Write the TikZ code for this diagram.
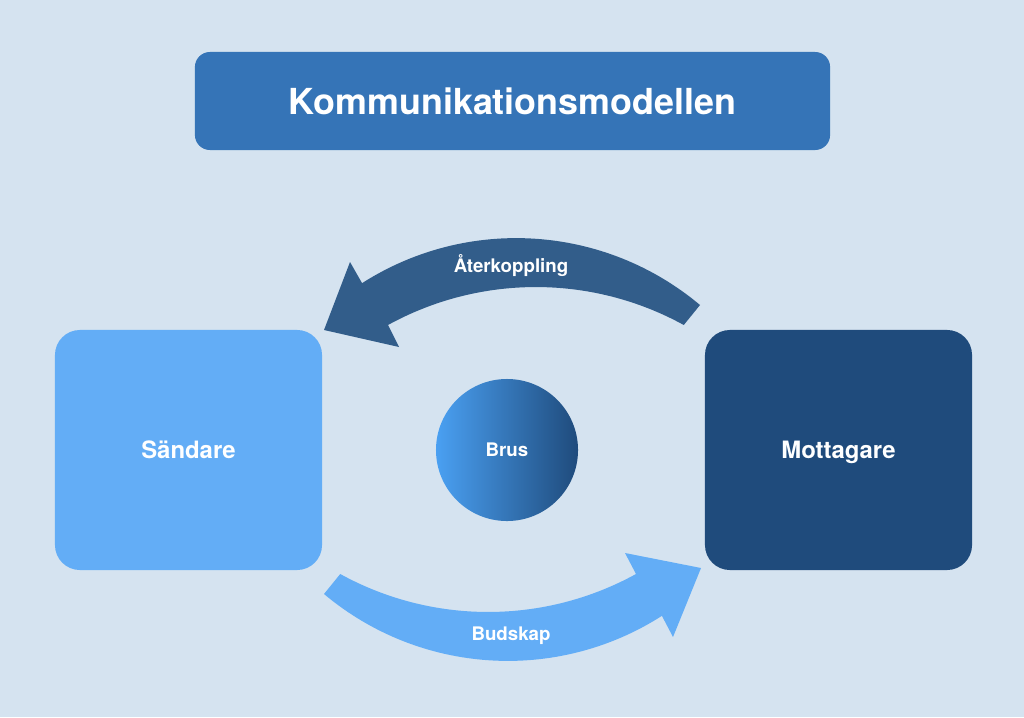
\documentclass[tikz,border=0pt]{standalone}
\usepackage{fontspec}
\setmainfont{TeX Gyre Heros}

\definecolor{bg}{HTML}{D5E3F0}
\definecolor{titleblue}{HTML}{3574B7}
\definecolor{lightblue}{HTML}{63ADF6}
\definecolor{darkblue}{HTML}{1F4B7C}
\definecolor{arrowblue}{HTML}{325D8A}
\definecolor{brusleft}{HTML}{4AA0F2}

\begin{document}
\begin{tikzpicture}[x=0.025cm,y=-0.025cm,
	box/.style={rounded corners=0.625cm, minimum width=6.675cm,
		minimum height=6cm, inner sep=0pt, text depth=0pt, text=white,
		font=\fontsize{17}{20}\selectfont\bfseries},
	arrowtext/.style={text=white, inner sep=0pt,
		font=\fontsize{13.3}{16}\selectfont\bfseries}]
		\fill[bg] (0,0) rectangle (1024,717);
		
		\node[fill=titleblue, rounded corners=0.375cm, minimum width=15.875cm,
			minimum height=2.45cm, inner sep=0pt, text=white,
			font=\fontsize{25.5}{30}\selectfont\bfseries]
			(title) at (512.5,101) {Kommunikationsmodellen};
		
		\node[box, fill=lightblue] (sender) at (188.5,450) {Sändare};
		\node[box, fill=darkblue] (receiver) at (838.5,450) {Mottagare};
		
		\node[circle, minimum size=3.55cm, inner sep=0pt, left color=brusleft,
			right color=darkblue, text=white,
			font=\fontsize{13.3}{16}\selectfont\bfseries]
			(noise) at (507,450) {Brus};
		
		% feedback, from receiver back to sender
		\fill[arrowblue] (700,305) arc[start angle=-50, end angle=-122.6, radius=286]
			-- (350,262) -- (324,330) -- (399,347) -- (388,325)
			arc[start angle=-118.8, end angle=-61.2, radius=307] -- cycle;
		\node[arrowtext] (feedback) at (511,266) {Återkoppling};
		
		% message, from sender to receiver
		\fill[lightblue] (324,594) arc[start angle=130, end angle=57.4, radius=286]
			-- (673,637) -- (701,568) -- (625,553) -- (636,574)
			arc[start angle=61.2, end angle=118.8, radius=307] -- cycle;
		\node[arrowtext] (message) at (511,636) {Budskap};
\end{tikzpicture}
\end{document}
